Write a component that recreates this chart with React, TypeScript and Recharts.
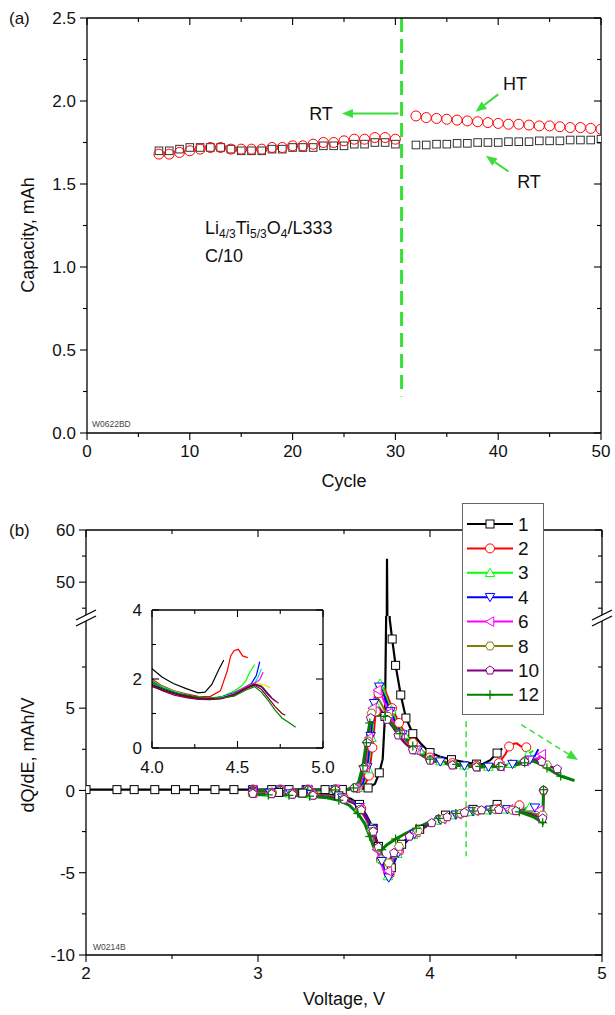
import React from 'react'
import { ComposedChart, Line, Scatter, XAxis, YAxis, ReferenceLine } from 'recharts'

// ---------- panel (a): capacity vs cycle ----------
const cycleA = [7, 8, 9, 10, 11, 12, 13, 14, 15, 16, 17, 18, 19, 20, 21, 22, 23, 24, 25, 26, 27, 28, 29, 30]
const capBlackA = [1.70, 1.70, 1.71, 1.72, 1.72, 1.72, 1.72, 1.71, 1.70, 1.70, 1.70, 1.71, 1.71, 1.72, 1.72, 1.72, 1.73, 1.73, 1.73, 1.74, 1.74, 1.75, 1.75, 1.74]
const capRedA = [1.68, 1.68, 1.69, 1.70, 1.71, 1.72, 1.72, 1.71, 1.71, 1.71, 1.71, 1.72, 1.72, 1.73, 1.73, 1.74, 1.75, 1.75, 1.76, 1.77, 1.77, 1.78, 1.78, 1.77]
const cycleB = [32, 33, 34, 35, 36, 37, 38, 39, 40, 41, 42, 43, 44, 45, 46, 47, 48, 49, 50]
const capBlackB = [1.735, 1.735, 1.74, 1.74, 1.745, 1.745, 1.75, 1.75, 1.75, 1.755, 1.755, 1.755, 1.76, 1.76, 1.76, 1.765, 1.765, 1.765, 1.77]
const capRedB = [1.91, 1.90, 1.895, 1.89, 1.885, 1.88, 1.875, 1.87, 1.865, 1.86, 1.86, 1.855, 1.85, 1.85, 1.845, 1.84, 1.84, 1.835, 1.83]

const ticksCycle = [0, 5, 10, 15, 20, 25, 30, 35, 40, 45, 50]
const ticksCap = [0, 0.25, 0.5, 0.75, 1, 1.25, 1.5, 1.75, 2, 2.25, 2.5]

// ---------- panel (b): dQ/dE vs voltage, [V, dQ/dE] ----------
type P = [number, number]
const c1Charge: P[] = [[2.00,0.05],[2.09,0.05],[2.18,0.05],[2.28,0.05],[2.40,0.05],[2.52,0.05],[2.63,0.05],[2.75,0.05],[2.86,0.05],[2.97,0.05],[3.08,0.05],[3.18,0.05],[3.28,0.05],[3.39,0.05],[3.49,0.06],[3.58,0.08],[3.64,0.15],[3.68,0.4],[3.705,1.07],[3.725,1.9],[3.738,4.5],[3.745,10.5],[3.75,54.5],[3.758,12.5],[3.766,10.4],[3.78,9.2],[3.80,7.6],[3.83,5.8],[3.86,4.4],[3.90,3.45],[3.95,2.8],[4.00,2.3],[4.06,2.05],[4.125,1.87],[4.20,1.72],[4.27,1.6],[4.31,1.62],[4.35,1.84],[4.39,2.27],[4.42,2.55]]
const c1Discharge: P[] = [[4.39,-0.85],[4.33,-1.05],[4.25,-1.15],[4.17,-1.25],[4.09,-1.5],[4.02,-1.85],[3.94,-2.36],[3.88,-2.85],[3.835,-3.27],[3.80,-3.9],[3.775,-4.7],[3.758,-5.4],[3.742,-5.2],[3.722,-4.3],[3.70,-3.4],[3.67,-2.3],[3.63,-1.5],[3.59,-0.85],[3.54,-0.5],[3.47,-0.33],[3.38,-0.22],[3.26,-0.16],[3.12,-0.12],[2.97,-0.1]]
const c2Charge: P[] = [[2.97,0.06],[3.05,0.06],[3.13,0.06],[3.21,0.06],[3.29,0.06],[3.37,0.07],[3.45,0.08],[3.52,0.1],[3.58,0.15],[3.62,0.3],[3.645,0.9],[3.665,2.6],[3.685,4.8],[3.70,5.9],[3.715,6.4],[3.73,6.3],[3.75,5.8],[3.78,5.0],[3.82,4.1],[3.86,3.4],[3.90,2.9],[3.95,2.45],[4.00,2.0],[4.06,1.8],[4.13,1.66],[4.20,1.57],[4.27,1.5],[4.34,1.49],[4.40,1.66],[4.44,2.23],[4.46,2.67],[4.48,2.82],[4.505,2.86],[4.53,2.67],[4.56,2.62]]
const c2Discharge: P[] = [[4.52,-0.9],[4.47,-1.08],[4.40,-1.12],[4.31,-1.18],[4.22,-1.28],[4.13,-1.48],[4.05,-1.78],[3.97,-2.2],[3.91,-2.65],[3.86,-3.1],[3.82,-3.7],[3.79,-4.4],[3.765,-5.1],[3.75,-5.35],[3.735,-5.0],[3.715,-4.2],[3.695,-3.4],[3.665,-2.4],[3.635,-1.65],[3.60,-1.1],[3.56,-0.72],[3.50,-0.46],[3.42,-0.32],[3.32,-0.22],[3.20,-0.17],[3.08,-0.13],[2.97,-0.11]]
const c3Charge: P[] = [[2.97,0.05],[3.05,0.05],[3.13,0.05],[3.21,0.05],[3.29,0.06],[3.37,0.07],[3.45,0.08],[3.52,0.1],[3.58,0.16],[3.615,0.4],[3.64,1.3],[3.66,3.2],[3.68,5.3],[3.695,6.2],[3.71,6.5],[3.725,6.3],[3.745,5.7],[3.775,4.9],[3.81,4.1],[3.85,3.4],[3.89,2.9],[3.94,2.45],[4.00,1.95],[4.06,1.78],[4.13,1.64],[4.20,1.53],[4.27,1.46],[4.34,1.45],[4.41,1.5],[4.47,1.62],[4.52,1.78],[4.55,1.95],[4.57,2.18],[4.60,2.42]]
const c3Discharge: P[] = [[4.58,-1.0],[4.52,-1.15],[4.43,-1.15],[4.33,-1.2],[4.23,-1.3],[4.13,-1.5],[4.04,-1.82],[3.96,-2.25],[3.90,-2.7],[3.85,-3.2],[3.81,-3.85],[3.78,-4.6],[3.755,-5.2],[3.735,-4.95],[3.715,-4.15],[3.69,-3.3],[3.66,-2.25],[3.625,-1.55],[3.59,-1.02],[3.55,-0.67],[3.49,-0.44],[3.41,-0.31],[3.31,-0.23],[3.19,-0.18],[3.07,-0.14],[2.97,-0.12]]
const c4Charge: P[] = [[2.97,0.04],[3.05,0.04],[3.13,0.04],[3.21,0.05],[3.29,0.05],[3.37,0.06],[3.45,0.07],[3.52,0.09],[3.575,0.15],[3.61,0.45],[3.635,1.4],[3.655,3.3],[3.675,5.3],[3.69,6.1],[3.705,6.3],[3.72,6.1],[3.74,5.6],[3.77,4.8],[3.80,4.1],[3.84,3.4],[3.88,2.9],[3.93,2.45],[4.00,1.92],[4.06,1.75],[4.13,1.6],[4.20,1.5],[4.27,1.44],[4.34,1.43],[4.41,1.48],[4.48,1.6],[4.54,1.75],[4.58,1.86],[4.61,2.1],[4.63,2.5]]
const c4Discharge: P[] = [[4.61,-1.05],[4.54,-1.2],[4.45,-1.15],[4.35,-1.18],[4.25,-1.28],[4.15,-1.48],[4.06,-1.78],[3.98,-2.18],[3.91,-2.65],[3.86,-3.15],[3.815,-3.8],[3.785,-4.55],[3.76,-5.3],[3.74,-5.1],[3.72,-4.3],[3.695,-3.45],[3.665,-2.35],[3.63,-1.58],[3.59,-1.02],[3.55,-0.66],[3.49,-0.44],[3.41,-0.31],[3.31,-0.24],[3.19,-0.19],[3.07,-0.15],[2.97,-0.13]]
const c6Charge: P[] = [[2.97,0.03],[3.05,0.03],[3.13,0.03],[3.21,0.04],[3.29,0.04],[3.37,0.05],[3.45,0.06],[3.52,0.08],[3.57,0.15],[3.60,0.45],[3.625,1.4],[3.645,3.2],[3.665,5.0],[3.68,5.8],[3.695,6.1],[3.71,6.0],[3.73,5.5],[3.76,4.7],[3.79,4.1],[3.83,3.4],[3.87,2.9],[3.92,2.45],[4.00,1.9],[4.06,1.72],[4.13,1.58],[4.20,1.48],[4.27,1.43],[4.34,1.42],[4.41,1.46],[4.48,1.58],[4.55,1.78],[4.60,1.88],[4.63,1.98],[4.65,2.2]]
const c6Discharge: P[] = [[4.635,-1.2],[4.56,-1.25],[4.46,-1.15],[4.36,-1.15],[4.26,-1.25],[4.16,-1.45],[4.07,-1.75],[3.99,-2.1],[3.92,-2.55],[3.86,-3.0],[3.815,-3.6],[3.78,-4.3],[3.755,-4.9],[3.735,-5.0],[3.715,-4.4],[3.69,-3.6],[3.66,-2.5],[3.625,-1.7],[3.59,-1.1],[3.55,-0.7],[3.49,-0.46],[3.41,-0.33],[3.31,-0.25],[3.19,-0.2],[3.07,-0.17],[2.97,-0.15]]
const c8Charge: P[] = [[2.97,0.02],[3.05,0.02],[3.13,0.02],[3.21,0.03],[3.29,0.03],[3.37,0.04],[3.45,0.05],[3.52,0.07],[3.565,0.15],[3.595,0.45],[3.62,1.4],[3.64,3.0],[3.66,4.7],[3.675,5.4],[3.69,5.6],[3.705,5.5],[3.725,5.1],[3.755,4.5],[3.785,4.0],[3.82,3.4],[3.86,2.9],[3.91,2.45],[4.00,1.85],[4.06,1.68],[4.13,1.55],[4.20,1.47],[4.27,1.42],[4.34,1.41],[4.41,1.45],[4.48,1.56],[4.55,1.76],[4.60,1.86],[4.64,1.8],[4.68,1.55],[4.72,1.35]]
const c8Discharge: P[] = [[4.66,0.0],[4.655,-1.5],[4.58,-1.35],[4.48,-1.2],[4.38,-1.15],[4.28,-1.22],[4.18,-1.4],[4.08,-1.7],[4.00,-2.05],[3.93,-2.45],[3.87,-2.9],[3.82,-3.4],[3.785,-4.0],[3.76,-4.4],[3.74,-4.5],[3.72,-4.1],[3.695,-3.5],[3.665,-2.5],[3.63,-1.75],[3.595,-1.15],[3.555,-0.75],[3.50,-0.5],[3.42,-0.36],[3.32,-0.28],[3.20,-0.22],[3.08,-0.19],[2.97,-0.17]]
const c10Charge: P[] = [[2.97,0.0],[3.05,0.0],[3.13,0.01],[3.21,0.01],[3.29,0.02],[3.37,0.03],[3.45,0.04],[3.52,0.06],[3.56,0.15],[3.59,0.45],[3.615,1.4],[3.635,2.9],[3.655,4.4],[3.67,5.0],[3.685,5.2],[3.70,5.1],[3.72,4.8],[3.75,4.3],[3.78,3.9],[3.815,3.35],[3.855,2.85],[3.90,2.45],[4.00,1.82],[4.06,1.66],[4.13,1.53],[4.20,1.46],[4.27,1.41],[4.34,1.4],[4.41,1.44],[4.48,1.55],[4.55,1.74],[4.60,1.85],[4.65,1.75],[4.70,1.45],[4.74,1.3]]
const c10Discharge: P[] = [[4.66,0.0],[4.655,-1.7],[4.59,-1.45],[4.50,-1.25],[4.40,-1.17],[4.30,-1.2],[4.20,-1.35],[4.10,-1.62],[4.01,-1.98],[3.94,-2.38],[3.88,-2.8],[3.83,-3.25],[3.79,-3.8],[3.765,-4.2],[3.745,-4.3],[3.725,-4.0],[3.70,-3.45],[3.67,-2.5],[3.635,-1.8],[3.60,-1.2],[3.56,-0.8],[3.50,-0.55],[3.42,-0.4],[3.32,-0.31],[3.20,-0.25],[3.08,-0.22],[2.97,-0.2]]
const c12Charge: P[] = [[2.97,-0.02],[3.05,-0.02],[3.13,-0.01],[3.21,0.0],[3.29,0.01],[3.37,0.02],[3.45,0.03],[3.52,0.05],[3.555,0.15],[3.585,0.5],[3.61,1.5],[3.63,2.9],[3.65,4.1],[3.665,4.5],[3.68,4.6],[3.70,4.55],[3.72,4.6],[3.74,4.5],[3.765,4.2],[3.79,3.9],[3.825,3.45],[3.865,3.1],[3.90,2.7],[3.94,2.3],[4.00,1.9],[4.07,1.72],[4.155,1.58],[4.29,1.46],[4.40,1.45],[4.48,1.5],[4.55,1.68],[4.60,1.78],[4.64,1.62],[4.68,1.37],[4.72,1.1],[4.76,0.87],[4.80,0.74],[4.84,0.6]]
const c12Discharge: P[] = [[4.66,0.05],[4.655,-1.96],[4.60,-1.6],[4.52,-1.3],[4.45,-1.2],[4.35,-1.2],[4.25,-1.25],[4.15,-1.4],[4.05,-1.7],[3.98,-2.0],[3.92,-2.3],[3.86,-2.6],[3.80,-2.95],[3.75,-3.3],[3.72,-3.6],[3.695,-3.7],[3.675,-3.5],[3.65,-2.8],[3.62,-2.0],[3.58,-1.4],[3.53,-0.9],[3.47,-0.6],[3.40,-0.45],[3.30,-0.35],[3.18,-0.3],[3.06,-0.27],[2.97,-0.25]]
// odd cycles only shown in the inset
const c5Charge: P[] = [[4.00,1.9],[4.08,1.72],[4.16,1.6],[4.24,1.5],[4.32,1.45],[4.40,1.47],[4.48,1.57],[4.55,1.75],[4.60,1.88],[4.62,2.05],[4.64,2.3]]
const c7Charge: P[] = [[4.00,1.85],[4.08,1.7],[4.16,1.58],[4.24,1.49],[4.32,1.44],[4.40,1.45],[4.48,1.56],[4.55,1.74],[4.60,1.86],[4.64,1.85],[4.67,1.8],[4.69,1.75]]
const c9Charge: P[] = [[4.00,1.83],[4.08,1.68],[4.16,1.56],[4.24,1.48],[4.32,1.43],[4.40,1.44],[4.48,1.55],[4.55,1.74],[4.60,1.85],[4.64,1.78],[4.67,1.6],[4.70,1.45]]
const c11Charge: P[] = [[4.00,1.78],[4.08,1.64],[4.16,1.53],[4.24,1.46],[4.32,1.42],[4.40,1.42],[4.48,1.52],[4.55,1.72],[4.60,1.82],[4.64,1.7],[4.68,1.45],[4.72,1.2],[4.76,1.0],[4.78,0.95]]

const cycleLabels = ['1', '2', '3', '4', '6', '8', '10', '12']
const ticksV = [2, 2.5, 3, 3.5, 4, 4.5, 5]
const ticksLow = [-10, -7.5, -5, -2.5, 0, 2.5, 5, 7.5]
const ticksHigh = [45, 50, 55, 60]
const ticksInsetV = [4, 4.25, 4.5, 4.75, 5]
const ticksInsetQ = [0, 1, 2, 3, 4]

const W = 615, H = 1015
const FONT = '"Liberation Sans", Arial, Helvetica, sans-serif'
const GREEN = '#3ade3a'

const toPts = (a: P[]) => a.map(([v, q]) => ({ v, q }))

const series = [
  { label: cycleLabels[0], color: '#000000', shape: 'square', w: 2.2, charge: c1Charge, discharge: c1Discharge },
  { label: cycleLabels[1], color: '#ff0000', shape: 'circle', w: 2, charge: c2Charge, discharge: c2Discharge },
  { label: cycleLabels[2], color: '#00ff00', shape: 'up', w: 2, charge: c3Charge, discharge: c3Discharge },
  { label: cycleLabels[3], color: '#0000ff', shape: 'down', w: 2, charge: c4Charge, discharge: c4Discharge },
  { label: cycleLabels[4], color: '#ff00ff', shape: 'left', w: 2, charge: c6Charge, discharge: c6Discharge },
  { label: cycleLabels[5], color: '#808000', shape: 'hex', w: 2, charge: c8Charge, discharge: c8Discharge },
  { label: cycleLabels[6], color: '#800080', shape: 'pent', w: 2.2, charge: c10Charge, discharge: c10Discharge },
  { label: cycleLabels[7], color: '#008000', shape: 'plus', w: 3, charge: c12Charge, discharge: c12Discharge },
]

const insetSeries = [
  { color: '#000000', data: c1Charge }, { color: '#ff0000', data: c2Charge }, { color: '#00ff00', data: c3Charge },
  { color: '#0000ff', data: c4Charge }, { color: '#00e0e0', data: c5Charge }, { color: '#ff00ff', data: c6Charge },
  { color: '#e6e600', data: c7Charge }, { color: '#808000', data: c8Charge }, { color: '#000080', data: c9Charge },
  { color: '#800080', data: c10Charge }, { color: '#800000', data: c11Charge }, { color: '#008000', data: c12Charge },
]

function poly(cx: number, cy: number, n: number, r: number, rot: number) {
  const pts = []
  for (let i = 0; i < n; i++) {
    const a = rot + (i * 2 * Math.PI) / n
    pts.push(`${cx + r * Math.cos(a)},${cy + r * Math.sin(a)}`)
  }
  return pts.join(' ')
}

function Marker({ shape, cx, cy, color, r = 4.5 }: any) {
  const st = { fill: '#fff', stroke: color, strokeWidth: 1 }
  switch (shape) {
    case 'square': return <rect x={cx - r + 0.5} y={cy - r + 0.5} width={2 * r - 1} height={2 * r - 1} {...st} />
    case 'circle': return <circle cx={cx} cy={cy} r={r} {...st} />
    case 'up': return <polygon points={poly(cx, cy + 1, 3, r + 1, -Math.PI / 2)} {...st} />
    case 'down': return <polygon points={poly(cx, cy - 1, 3, r + 1, Math.PI / 2)} {...st} />
    case 'left': return <polygon points={poly(cx + 1, cy, 3, r + 1, Math.PI)} {...st} />
    case 'hex': return <polygon points={poly(cx, cy, 6, r, 0)} {...st} />
    case 'pent': return <polygon points={poly(cx, cy, 5, r, -Math.PI / 2)} {...st} />
    default:
      return <g stroke={color} strokeWidth={1.3}><line x1={cx - r} x2={cx + r} y1={cy} y2={cy} /><line x1={cx} x2={cx} y1={cy - r} y2={cy + r} /></g>
  }
}

// markers only where they are far enough apart, like Origin's "skip points"
function thinDots(shape: string, color: string, gap = 16) {
  let lx = -1e9, ly = -1e9
  return (p: any) => {
    const { cx, cy, index, payload } = p
    if (index === 0) { lx = -1e9; ly = -1e9 }
    if (cx == null || cy == null || Math.abs(payload.q) > 10 || Math.hypot(cx - lx, cy - ly) < gap)
      return <g key={`n${index}`} />
    lx = cx; ly = cy
    return <Marker key={`m${index}`} shape={shape} cx={cx} cy={cy} color={color} />
  }
}

type Side = 'left' | 'right' | 'top' | 'bottom'
function tickFn(side: Side, isMajor: (v: number) => boolean, fmt: ((v: number) => string) | null, inward: boolean, gap = 8, fs = 17) {
  return (p: any) => {
    const { x, y, payload } = p
    const v = payload.value as number
    const major = isMajor(v)
    const len = major ? 7 : 4
    const s = inward ? -1 : 1
    let x2 = x, y2 = y
    if (side === 'left') x2 = x - s * len
    if (side === 'right') x2 = x + s * len
    if (side === 'bottom') y2 = y + s * len
    if (side === 'top') y2 = y - s * len
    const label = major && fmt ? fmt(v) : null
    const out = inward ? 0 : len
    return (
      <g>
        <line x1={x} y1={y} x2={x2} y2={y2} stroke="#000" strokeWidth={1.1} />
        {label !== null && side === 'left' && (
          <text x={x - out - gap} y={y + fs * 0.36} textAnchor="end" fontSize={fs} fill="#111" fontFamily={FONT}>{label}</text>
        )}
        {label !== null && side === 'bottom' && (
          <text x={x} y={y + out + gap + fs * 0.72} textAnchor="middle" fontSize={fs} fill="#111" fontFamily={FONT}>{label}</text>
        )}
      </g>
    )
  }
}

const AX = { stroke: '#000', strokeWidth: 1.3 }
const axisCommon = { tickSize: 0, tickMargin: 0, tickLine: false, interval: 0 as const, allowDataOverflow: true, type: 'number' as const }

function arrowShape(color: string, dash?: string, w = 2) {
  return (p: any) => {
    const { x1, y1, x2, y2 } = p
    const a = Math.atan2(y2 - y1, x2 - x1)
    const hl = 11, hw = 4.5
    const bx = x2 - hl * Math.cos(a), by = y2 - hl * Math.sin(a)
    const pts = `${x2},${y2} ${bx + hw * Math.sin(a)},${by - hw * Math.cos(a)} ${bx - hw * Math.sin(a)},${by + hw * Math.cos(a)}`
    return (
      <g>
        <line x1={x1} y1={y1} x2={bx} y2={by} stroke={color} strokeWidth={w} strokeDasharray={dash} />
        <polygon points={pts} fill={color} />
      </g>
    )
  }
}

const isInt = (v: number) => Math.abs(v - Math.round(v)) < 1e-6
const isHalf = (v: number) => isInt(v * 2)

function PanelA() {
  const black = [...cycleA.map((c, i) => ({ x: c, y: capBlackA[i] })), ...cycleB.map((c, i) => ({ x: c, y: capBlackB[i] }))]
  const red = [...cycleA.map((c, i) => ({ x: c, y: capRedA[i] })), ...cycleB.map((c, i) => ({ x: c, y: capRedB[i] }))]
  return (
    <ComposedChart width={W} height={H} margin={{ top: 17, right: 13, bottom: 532, left: 0 }}>
      <XAxis xAxisId="b" dataKey="x" domain={[0, 50]} ticks={ticksCycle} height={50} axisLine={AX} {...axisCommon}
        tick={tickFn('bottom', (v) => v % 10 === 0, (v) => String(v), false, 5)} />
      <XAxis xAxisId="t" orientation="top" dataKey="x" domain={[0, 50]} ticks={ticksCycle} height={1} axisLine={AX} {...axisCommon}
        tick={tickFn('top', (v) => v % 10 === 0, null, true)} />
      <YAxis yAxisId="l" dataKey="y" domain={[0, 2.5]} ticks={ticksCap} width={87} axisLine={AX} {...axisCommon}
        tick={tickFn('left', isHalf, (v) => v.toFixed(1), false, 4)} />
      <YAxis yAxisId="r" orientation="right" dataKey="y" domain={[0, 2.5]} ticks={ticksCap} width={1} axisLine={AX} {...axisCommon}
        tick={tickFn('right', isHalf, null, true)} />
      <Scatter xAxisId="b" yAxisId="l" data={black} isAnimationActive={false}
        shape={(p: any) => <rect x={p.cx - 3.8} y={p.cy - 3.8} width={7.6} height={7.6} fill="#fff" stroke="#333" strokeWidth={1} />} />
      <Scatter xAxisId="b" yAxisId="l" data={red} isAnimationActive={false}
        shape={(p: any) => <circle cx={p.cx} cy={p.cy} r={5} fill="none" stroke="#ff0000" strokeWidth={1} />} />
      <ReferenceLine xAxisId="b" yAxisId="l" segment={[{ x: 30.6, y: 2.5 }, { x: 30.6, y: 0.22 }]} stroke={GREEN} strokeWidth={3} strokeDasharray="14 7" />
      <ReferenceLine xAxisId="b" yAxisId="l" segment={[{ x: 30.3, y: 1.925 }, { x: 24.8, y: 1.925 }]} shape={arrowShape(GREEN)} />
      <ReferenceLine xAxisId="b" yAxisId="l" segment={[{ x: 40.0, y: 2.04 }, { x: 37.8, y: 1.935 }]} shape={arrowShape(GREEN)} />
      <ReferenceLine xAxisId="b" yAxisId="l" segment={[{ x: 41.0, y: 1.575 }, { x: 38.8, y: 1.67 }]} shape={arrowShape(GREEN)} />
    </ComposedChart>
  )
}

function PanelBLow() {
  return (
    <ComposedChart width={W} height={H} margin={{ top: 616, right: 12, bottom: 10, left: 0 }}>
      <XAxis xAxisId="b" dataKey="v" domain={[2, 5]} ticks={ticksV} height={50} axisLine={AX} {...axisCommon}
        tick={tickFn('bottom', isInt, (v) => String(v), false, 5)} />
      <YAxis yAxisId="l" dataKey="q" domain={[-10, 10.6]} ticks={ticksLow} width={86} axisLine={AX} {...axisCommon}
        tick={tickFn('left', (v) => v % 5 === 0, (v) => String(v), false, 4)} />
      <YAxis yAxisId="r" orientation="right" dataKey="q" domain={[-10, 10.6]} ticks={ticksLow} width={1} axisLine={AX} {...axisCommon}
        tick={tickFn('right', (v) => v % 5 === 0, null, true)} />
      <ReferenceLine xAxisId="b" yAxisId="l" segment={[{ x: 4.21, y: 4.2 }, { x: 4.21, y: -4.0 }]} stroke={GREEN} strokeWidth={1.5} strokeDasharray="6 4" />
      <ReferenceLine xAxisId="b" yAxisId="l" segment={[{ x: 4.53, y: 4.0 }, { x: 4.86, y: 1.85 }]} shape={arrowShape(GREEN, '6 4', 1.5)} />
      {series.map((s) => (
        <Line key={`c${s.label}`} xAxisId="b" yAxisId="l" data={toPts(s.charge)} dataKey="q" type="linear" stroke={s.color}
          strokeWidth={s.w} dot={thinDots(s.shape, s.color)} activeDot={false} isAnimationActive={false} />
      ))}
      {series.map((s) => (
        <Line key={`d${s.label}`} xAxisId="b" yAxisId="l" data={toPts(s.discharge)} dataKey="q" type="linear" stroke={s.color}
          strokeWidth={s.w} dot={thinDots(s.shape, s.color)} activeDot={false} isAnimationActive={false} />
      ))}
    </ComposedChart>
  )
}

function PanelBHigh() {
  return (
    <ComposedChart width={W} height={H} margin={{ top: 529, right: 12, bottom: 399, left: 0 }}>
      <XAxis xAxisId="t" orientation="top" dataKey="v" domain={[2, 5]} ticks={ticksV} height={1} axisLine={AX} {...axisCommon}
        tick={tickFn('top', isInt, null, true)} />
      <YAxis yAxisId="l" dataKey="q" domain={[43.5, 60]} ticks={ticksHigh} width={86} axisLine={AX} {...axisCommon}
        tick={tickFn('left', (v) => v % 10 === 0, (v) => String(v), false, 4)} />
      <YAxis yAxisId="r" orientation="right" dataKey="q" domain={[43.5, 60]} ticks={ticksHigh} width={1} axisLine={AX} {...axisCommon}
        tick={tickFn('right', (v) => v % 10 === 0, null, true)} />
      <Line xAxisId="t" yAxisId="l" data={toPts(c1Charge)} dataKey="q" type="linear" stroke="#000" strokeWidth={2.2}
        dot={false} activeDot={false} isAnimationActive={false} />
    </ComposedChart>
  )
}

function Inset() {
  return (
    <ComposedChart width={W} height={H} margin={{ top: 609, right: 291, bottom: 237, left: 0 }}>
      <XAxis xAxisId="b" dataKey="v" domain={[4, 5]} ticks={ticksInsetV} height={30} axisLine={AX} {...axisCommon}
        tick={tickFn('bottom', isHalf, (v) => v.toFixed(1), true, 13)} />
      <XAxis xAxisId="t" orientation="top" dataKey="v" domain={[4, 5]} ticks={ticksInsetV} height={1} axisLine={AX} {...axisCommon}
        tick={tickFn('top', isHalf, null, true)} />
      <YAxis yAxisId="l" dataKey="q" domain={[0, 4]} ticks={ticksInsetQ} width={152} axisLine={AX} {...axisCommon}
        tick={tickFn('left', (v) => v % 2 === 0, (v) => String(v), true, 10)} />
      <YAxis yAxisId="r" orientation="right" dataKey="q" domain={[0, 4]} ticks={ticksInsetQ} width={1} axisLine={AX} {...axisCommon}
        tick={tickFn('right', (v) => v % 2 === 0, null, true)} />
      {insetSeries.map((s, i) => (
        <Line key={`i${i}`} xAxisId="b" yAxisId="l" data={toPts(s.data)} dataKey="q" type="linear" stroke={s.color}
          strokeWidth={1.2} dot={false} activeDot={false} isAnimationActive={false} />
      ))}
    </ComposedChart>
  )
}

function Overlay() {
  const brk = (x0: number) => (
    <g key={x0}>
      <polygon points={`${x0 - 10},${620} ${x0 + 10},${610} ${x0 + 10},${616} ${x0 - 10},${626}`} fill="#fff" />
      <line x1={x0 - 10} y1={620} x2={x0 + 10} y2={610} stroke="#000" strokeWidth={1.3} />
      <line x1={x0 - 10} y1={626} x2={x0 + 10} y2={616} stroke="#000" strokeWidth={1.3} />
    </g>
  )
  return (
    <svg width={W} height={H} style={{ position: 'absolute', left: 0, top: 0 }} fontFamily={FONT} fill="#111">
      <text x={9} y={24} fontSize={17}>(a)</text>
      <text x={9} y={536} fontSize={17}>(b)</text>
      <text x={28} y={235} fontSize={18} textAnchor="middle" dominantBaseline="central" transform="rotate(-90 28 235)">Capacity, mAh</text>
      <text x={28} y={755} fontSize={18} textAnchor="middle" dominantBaseline="central" transform="rotate(-90 28 755)">dQ/dE, mAh/V</text>
      <text x={344} y={487} fontSize={18} textAnchor="middle">Cycle</text>
      <text x={344} y={1005} fontSize={18} textAnchor="middle">Voltage, V</text>
      <text x={321} y={120} fontSize={18} textAnchor="middle">RT</text>
      <text x={515} y={90} fontSize={18} textAnchor="middle">HT</text>
      <text x={529} y={188} fontSize={18} textAnchor="middle">RT</text>
      <text x={205} y={234} fontSize={18}>
        Li<tspan fontSize={12} dy={4}>4/3</tspan><tspan dy={-4}>Ti</tspan><tspan fontSize={12} dy={4}>5/3</tspan>
        <tspan dy={-4}>O</tspan><tspan fontSize={12} dy={4}>4</tspan><tspan dy={-4}>/L333</tspan>
      </text>
      <text x={205} y={262} fontSize={18}>C/10</text>
      <text x={92} y={427} fontSize={8.5} fill="#444">W0622BD</text>
      <text x={93} y={950} fontSize={8.5} fill="#444">W0214B</text>
      {brk(86)}
      {brk(602)}
    </svg>
  )
}

function LegendBox() {
  return (
    <svg width={82} height={212} style={{ position: 'absolute', left: 462, top: 503 }} fontFamily={FONT}>
      <rect x={0.5} y={0.5} width={81} height={211} fill="#fff" stroke="#666" strokeWidth={1} />
      {series.map((s, i) => {
        const cy = 21 + i * 24.4
        return (
          <g key={s.label}>
            <line x1={5} x2={51} y1={cy} y2={cy} stroke={s.color} strokeWidth={2} />
            <Marker shape={s.shape} cx={28} cy={cy} color={s.color} />
            <text x={56} y={cy + 6.5} fontSize={19} fill="#111">{s.label}</text>
          </g>
        )
      })}
    </svg>
  )
}

export default function App() {
  const layer: React.CSSProperties = { position: 'absolute', left: 0, top: 0 }
  return (
    <div style={{ position: 'absolute', left: 0, top: 0, width: W, height: H, overflow: 'hidden', background: '#fff', fontFamily: FONT }}>
      <div style={layer}><PanelA /></div>
      <div style={layer}><PanelBLow /></div>
      <div style={layer}><PanelBHigh /></div>
      <div style={layer}><Inset /></div>
      <Overlay />
      <LegendBox />
    </div>
  )
}
